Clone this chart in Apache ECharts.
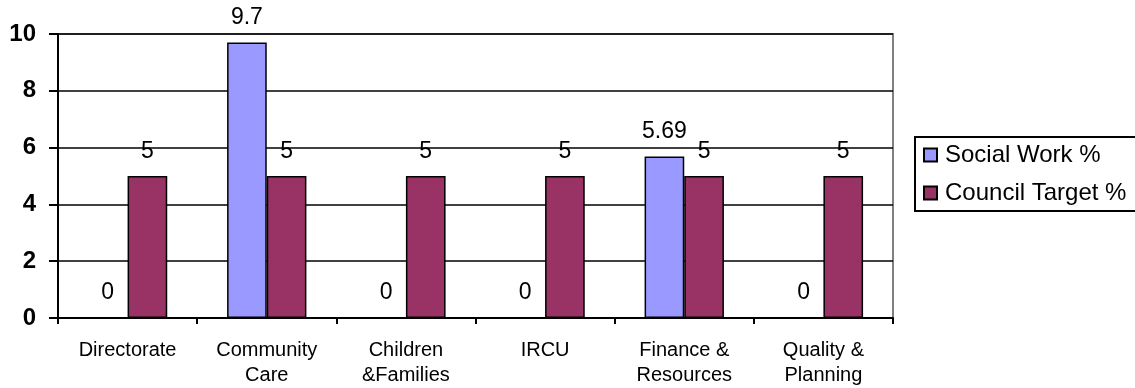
<!DOCTYPE html>
<html><head><meta charset="utf-8">
<script src="https://cdn.jsdelivr.net/npm/echarts@6/dist/echarts.min.js"></script>
<style>html,body{margin:0;padding:0;background:#fff}#c{width:1135px;height:388px}</style>
</head><body><div id="c"></div>
<script>
const categories = ['Directorate', 'Community\nCare', 'Children\n&Families', 'IRCU', 'Finance &\nResources', 'Quality &\nPlanning'];
const socialWork = [0, 9.7, 0, 0, 5.69, 0];
const councilTarget = [5, 5, 5, 5, 5, 5];
const yTicks = [0, 2, 4, 6, 8, 10];

const chart = echarts.init(document.getElementById('c'));
const font = '"Liberation Sans", Arial, sans-serif';
const label = {show: true, position: 'top', distance: 13, fontSize: 23, fontFamily: font, color: '#000'};
chart.setOption({
  animation: false,
  textStyle: {fontFamily: font},
  grid: {left: 58, right: 242, top: 34, bottom: 70, show: true, borderColor: '#808080', borderWidth: 2},
  legend: {
    left: 915, top: 137, orient: 'vertical', itemWidth: 13, itemHeight: 13, itemGap: 14,
    icon: 'rect', borderColor: '#000', borderWidth: 2, padding: [6, 24, 6, 8],
    textStyle: {fontSize: 24, fontFamily: font, color: '#000', padding: [0, 0, 0, 3]},
    data: ['Social Work %', 'Council Target %']
  },
  xAxis: {
    type: 'category', data: categories,
    axisLine: {lineStyle: {color: '#000', width: 2}},
    axisTick: {show: true, length: 6, lineStyle: {color: '#000', width: 2}},
    axisLabel: {fontSize: 20, lineHeight: 25, color: '#000', margin: 20, fontFamily: font}
  },
  yAxis: {
    type: 'value', min: 0, max: 10, interval: 2,
    axisLine: {show: true, lineStyle: {color: '#000', width: 2}},
    axisTick: {show: true, length: 9, lineStyle: {color: '#000', width: 2}},
    axisLabel: {fontSize: 24, fontWeight: 'bold', color: '#000', margin: 22, fontFamily: font,
      formatter: v => yTicks.includes(v) ? String(v) : ''},
    splitLine: {lineStyle: {color: '#000', width: 1.5}}
  },
  series: [
    {name: 'Social Work %', type: 'bar', data: socialWork, barGap: '0%', barCategoryGap: '43%',
     itemStyle: {color: '#9999FF', borderColor: '#000', borderWidth: 1.5}, label: label},
    {name: 'Council Target %', type: 'bar', data: councilTarget,
     itemStyle: {color: '#993366', borderColor: '#000', borderWidth: 1.5}, label: label}
  ]
});
</script></body></html>
